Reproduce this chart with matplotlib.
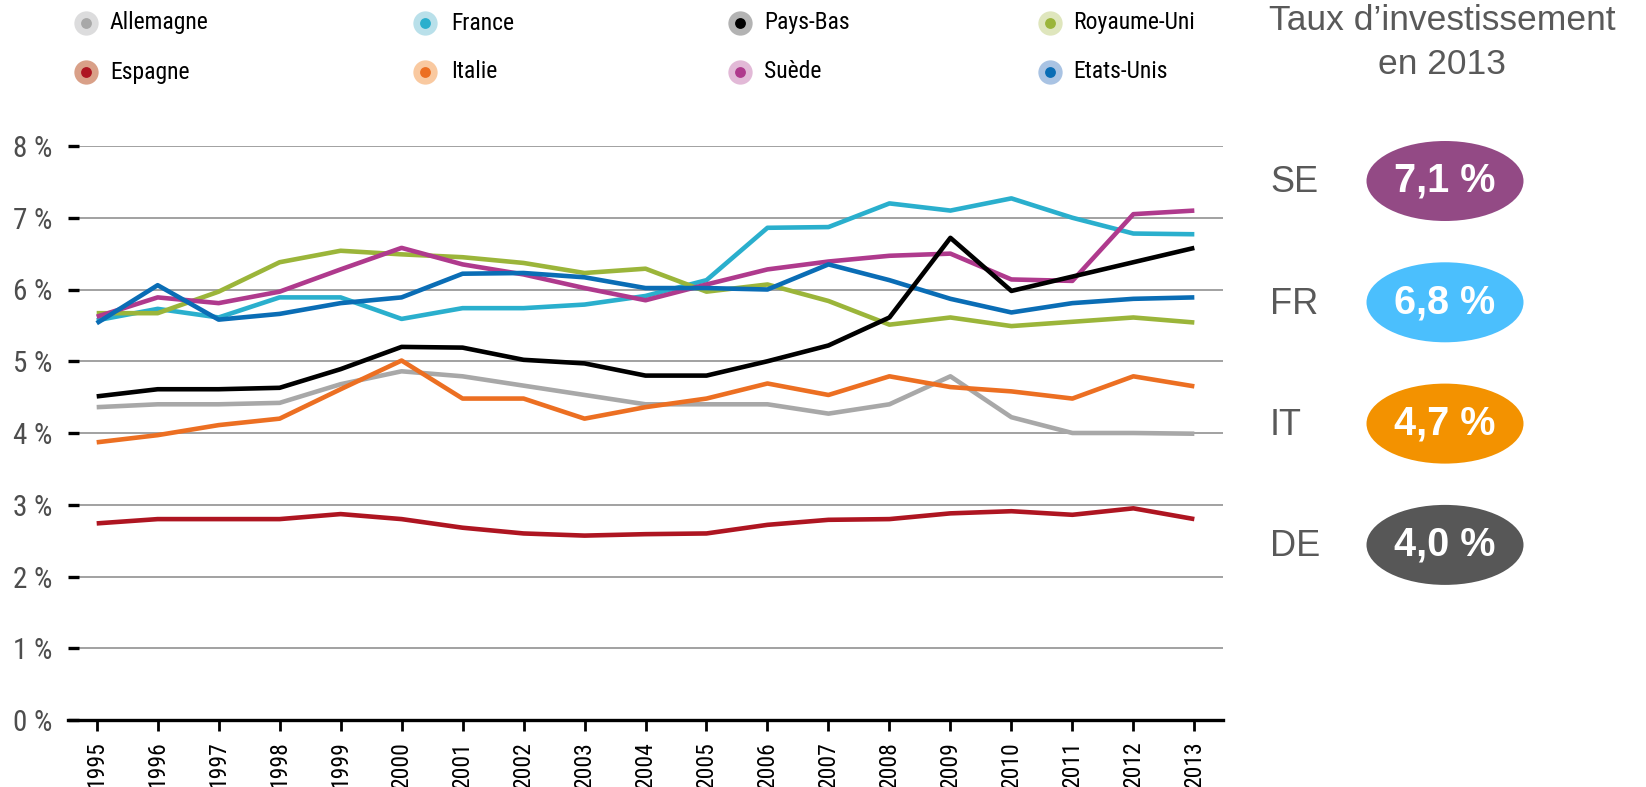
import matplotlib
matplotlib.use('Agg')
import matplotlib.pyplot as plt
from matplotlib.lines import Line2D
from matplotlib.patches import Ellipse
from matplotlib import font_manager as fm
import glob, os

# ---- find a condensed / narrow sans font if available ----
narrow_path = None
prefs = ['liberationsansnarrow-regular', 'liberationsansnarrow', 'robotocondensed-regular',
         'robotocondensed', 'dejavusanscondensed.ttf', 'opensanscondensed',
         'notosans-condensed', 'notosanscondensed']
files = [f.fname for f in fm.fontManager.ttflist]
for d in ['/usr/share/fonts', '/usr/local/share/fonts', os.path.expanduser('~/.fonts')]:
    files += glob.glob(os.path.join(d, '**', '*.[to]tf'), recursive=True)
for p in prefs:
    hit = [f for f in files if p in os.path.basename(f).lower().replace(' ', '').replace('_', '')
           and 'bold' not in os.path.basename(f).lower() and 'italic' not in os.path.basename(f).lower()
           and 'light' not in os.path.basename(f).lower() and 'thin' not in os.path.basename(f).lower()]
    if hit:
        narrow_path = sorted(hit, key=len)[0]
        break
if narrow_path:
    NFP = lambda size: fm.FontProperties(fname=narrow_path, size=size)
else:
    NFP = lambda size: fm.FontProperties(family='DejaVu Sans', size=size * 0.82)

SANS = ['Liberation Sans', 'DejaVu Sans']

years = list(range(1995, 2014))

allemagne = [4.36, 4.40, 4.40, 4.42, 4.68, 4.86, 4.79, 4.66, 4.53, 4.40, 4.40, 4.40, 4.27, 4.40, 4.79, 4.22, 4.00, 4.00, 3.99]
espagne = [2.74, 2.80, 2.80, 2.80, 2.87, 2.80, 2.68, 2.60, 2.57, 2.59, 2.60, 2.72, 2.79, 2.80, 2.88, 2.91, 2.86, 2.95, 2.80]
france = [5.57, 5.73, 5.61, 5.89, 5.89, 5.59, 5.74, 5.74, 5.79, 5.91, 6.13, 6.86, 6.87, 7.20, 7.10, 7.27, 7.00, 6.78, 6.77]
italie = [3.87, 3.97, 4.11, 4.20, 4.61, 5.01, 4.48, 4.48, 4.20, 4.36, 4.48, 4.69, 4.53, 4.79, 4.64, 4.58, 4.48, 4.79, 4.65]
pays_bas = [4.51, 4.61, 4.61, 4.63, 4.89, 5.20, 5.19, 5.02, 4.97, 4.80, 4.80, 5.00, 5.22, 5.61, 6.72, 5.98, 6.18, 6.38, 6.58]
suede = [5.62, 5.89, 5.81, 5.97, 6.28, 6.58, 6.35, 6.21, 6.02, 5.85, 6.07, 6.28, 6.39, 6.47, 6.50, 6.14, 6.12, 7.05, 7.10]
royaume_uni = [5.67, 5.67, 5.97, 6.38, 6.54, 6.49, 6.45, 6.37, 6.23, 6.29, 5.97, 6.07, 5.84, 5.51, 5.61, 5.49, 5.55, 5.61, 5.54]
etats_unis = [5.53, 6.06, 5.58, 5.66, 5.81, 5.89, 6.22, 6.23, 6.17, 6.02, 6.02, 6.00, 6.35, 6.13, 5.87, 5.68, 5.81, 5.87, 5.89]

series_names = ['Allemagne', 'France', 'Pays-Bas', 'Royaume-Uni',
                'Espagne', 'Italie', 'Suède', 'Etats-Unis']
series_values = [allemagne, france, pays_bas, royaume_uni,
                 espagne, italie, suede, etats_unis]
line_colors = ['#a8a8a8', '#2aafcd', '#000000', '#9bb53a',
               '#ae1521', '#ec6f22', '#af3a8d', '#0a6db5']
halo_colors = ['#dcdcdd', '#b9e0ea', '#b3b3b3', '#dfe6bd',
               '#d9a088', '#f9c9a0', '#e2b9d7', '#a9c3e3']
draw_order = ['Allemagne', 'Espagne', 'Italie', 'France', 'Royaume-Uni',
              'Suède', 'Etats-Unis', 'Pays-Bas']

y_ticks = [0, 1, 2, 3, 4, 5, 6, 7, 8]
y_tick_labels = [f'{v} %' for v in y_ticks]

panel_title = ['Taux d’investissement', 'en 2013']
panel_codes = ['SE', 'FR', 'IT', 'DE']
panel_values = [7.1, 6.8, 4.7, 4.0]
panel_colors = ['#934a85', '#4bbffd', '#f39200', '#575757']

W, H = 1646, 787
fig = plt.figure(figsize=(W / 100, H / 100), dpi=100)
fig.patch.set_facecolor('white')

ax_l, ax_r, ax_b, ax_t = 79, 1223, 720, 146
ax = fig.add_axes([ax_l / W, 1 - ax_b / H, (ax_r - ax_l) / W, (ax_b - ax_t) / H])
ax.set_xlim(1994.71, 2013.47)
ax.set_ylim(0, 8)

for name in draw_order:
    i = series_names.index(name)
    ax.plot(years, series_values[i], color=line_colors[i], lw=3.3,
            solid_capstyle='butt', zorder=3)

for s in ['left', 'right', 'top', 'bottom']:
    ax.spines[s].set_visible(False)
ax.add_line(Line2D([-11 / (ax_r - ax_l), 1], [0, 0], transform=ax.transAxes,
                   color='black', lw=2.4, clip_on=False, zorder=4))

ax.set_yticks(y_ticks)
ax.set_yticklabels(y_tick_labels)
ax.yaxis.grid(True, color='#9a9a9a', lw=1.3)
ax.set_axisbelow(True)
ax.tick_params(axis='y', length=8, width=2.4, color='black', direction='out',
               pad=11, labelcolor='#4d4d4d')
for lab in ax.get_yticklabels():
    lab.set_fontproperties(NFP(21))

ax.set_xticks(years)
ax.set_xticklabels([str(y) for y in years], rotation=90)
ax.tick_params(axis='x', length=8, width=2.0, color='black', direction='out',
               pad=7, labelcolor='black')
for lab in ax.get_xticklabels():
    lab.set_fontproperties(NFP(17))

# legend (manual)
mk_x = [86, 425, 740, 1050]
tx_x = [110, 451, 764, 1073]
row_y = [23, 72]
for i, name in enumerate(series_names):
    c, r = i % 4, i // 4
    fx, fy = mk_x[c] / W, 1 - row_y[r] / H
    fig.add_artist(Line2D([fx], [fy], marker='o', ms=17.5, mew=0,
                          color=halo_colors[i], transform=fig.transFigure))
    fig.add_artist(Line2D([fx], [fy], marker='o', ms=7.8, mew=0,
                          color=line_colors[i], transform=fig.transFigure))
    fig.text(tx_x[c] / W, fy, name, ha='left', va='center',
             fontproperties=NFP(17), color='black')

# right panel
px0 = 1250
rax = fig.add_axes([px0 / W, 0, (W - px0) / W, 1])
rax.set_xlim(0, W - px0)
rax.set_ylim(H, 0)
rax.axis('off')

rax.text(1442 - px0, 21, panel_title[0], ha='center', va='center',
         fontsize=25.5, color='#595959', family=SANS)
rax.text(1442 - px0, 64, panel_title[1], ha='center', va='center',
         fontsize=25.5, color='#595959', family=SANS)

cy0, dy = 181, 121.3
for i, (code, val, col) in enumerate(zip(panel_codes, panel_values, panel_colors)):
    cy = cy0 + i * dy
    rax.add_patch(Ellipse((1445 - px0, cy), 157, 80, color=col, lw=0))
    rax.text(1445 - px0, cy, f'{val:.1f} %'.replace('.', ','), ha='center',
             va='center', fontsize=28.5, color='white', fontweight='bold',
             family=SANS)
    rax.text(1270 - px0, cy + 2, code, ha='left', va='center', fontsize=26,
             color='#595959', family=SANS)

fig.savefig('out.png', dpi=100, facecolor='white')
